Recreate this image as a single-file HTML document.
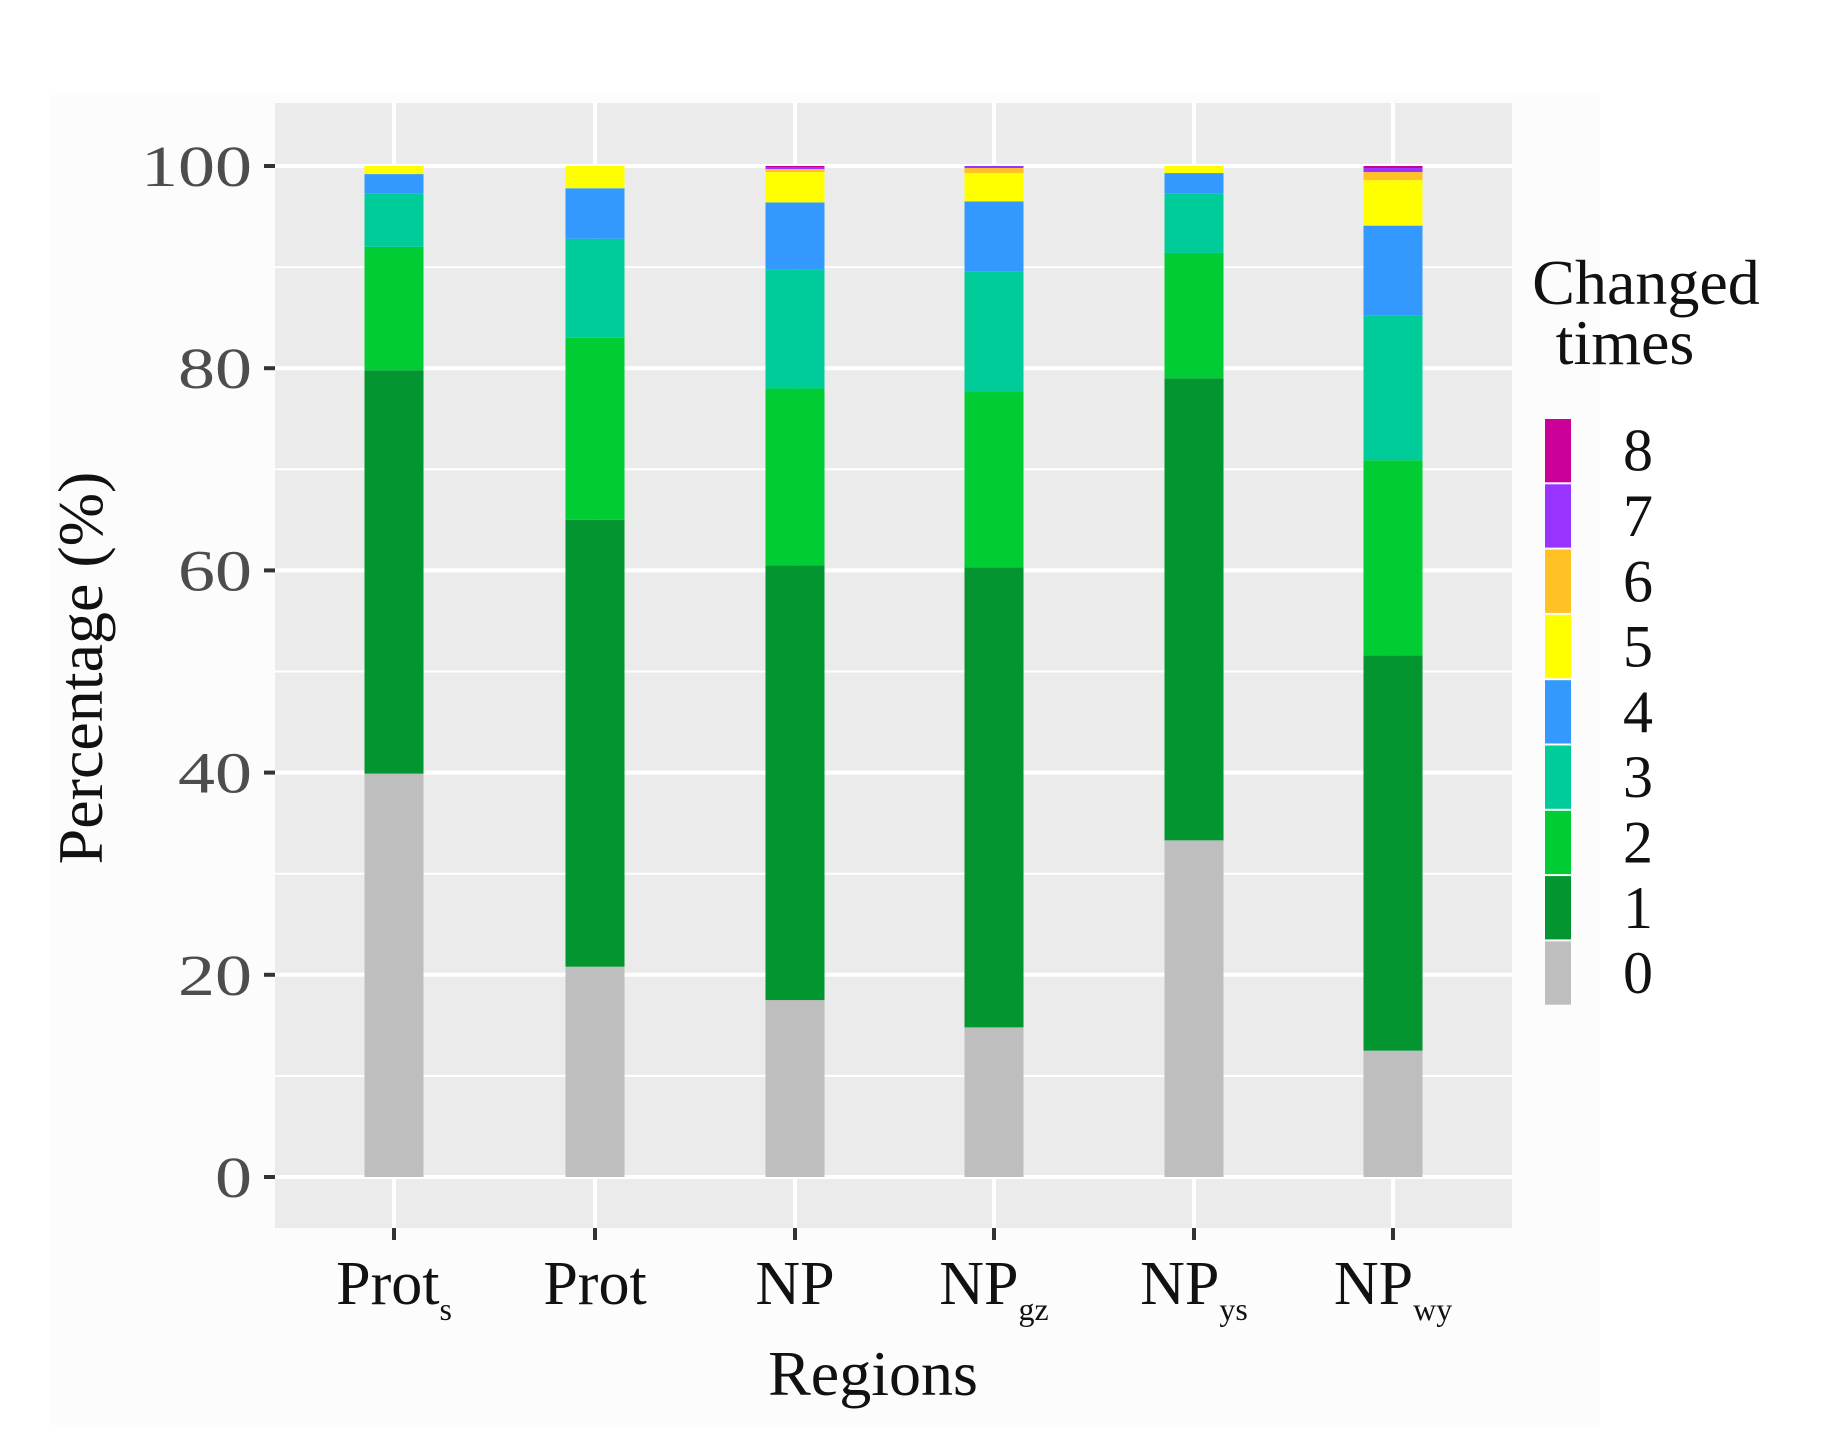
<!DOCTYPE html>
<html><head><meta charset="utf-8"><style>
html,body{margin:0;padding:0;background:#fff;}
svg{display:block;font-family:"Liberation Serif",serif;}
</style></head><body>
<svg id="s" width="1828" height="1440" xmlns="http://www.w3.org/2000/svg"></svg>
<script>
const s=document.getElementById('s');
let h='';
h+='<rect x="50" y="95" width="1550" height="1330" fill="#fcfcfc"/>';
const px0=275,px1=1512,py0=103,py1=1228;
const y0=1177,k=10.11;
const Y=v=>y0-v*k;
h+=`<rect x="${px0}" y="${py0}" width="${px1-px0}" height="${py1-py0}" fill="#ebebeb"/>`;
for(let v=10;v<=90;v+=20)h+=`<line x1="${px0}" x2="${px1}" y1="${Y(v)}" y2="${Y(v)}" stroke="#fff" stroke-width="2"/>`;
for(let v=0;v<=100;v+=20)h+=`<line x1="${px0}" x2="${px1}" y1="${Y(v)}" y2="${Y(v)}" stroke="#fff" stroke-width="4"/>`;
const xs=[394,595,795,994,1194,1393];
xs.forEach(x=>h+=`<line x1="${x}" x2="${x}" y1="${py0}" y2="${py1}" stroke="#fff" stroke-width="4"/>`);
const cols=['#bebebe','#039530','#00cc33','#00cc99','#3399ff','#ffff00','#ffc125','#9933ff','#cc0099'];
const data=[[39.9,79.8,92,97.3,99.2,100],[20.8,65,83,92.8,97.8,100],[17.5,60.5,78,89.8,96.4,99.4,99.7,99.9,100],
[14.8,60.3,77.7,89.6,96.5,99.3,99.8,100],[33.3,79,91.4,97.3,99.3,100],[12.5,51.6,70.9,85.2,94.1,98.6,99.4,99.8,100]];
data.forEach((d,i)=>{let prev=0;d.forEach((v,j)=>{h+=`<rect x="${xs[i]-29.5}" y="${Y(v)}" width="59" height="${Y(prev)-Y(v)}" fill="${cols[j]}"/>`;prev=v;});});
for(let v=0;v<=100;v+=20){h+=`<line x1="264" x2="275" y1="${Y(v)}" y2="${Y(v)}" stroke="#333" stroke-width="4"/>`;
const t=String(v);const L=t.length*37;
h+=`<text x="${252-L}" y="${Y(v)+20}" font-size="58" textLength="${L}" lengthAdjust="spacingAndGlyphs" fill="#4d4d4d">${t}</text>`;}
const labs=[['Prot','s'],['Prot',''],['NP',''],['NP','gz'],['NP','ys'],['NP','wy']];
xs.forEach((x,i)=>{h+=`<line x1="${x}" x2="${x}" y1="${py1}" y2="${py1+12}" stroke="#333" stroke-width="4"/>`;
const[a,b]=labs[i];h+=`<text x="${x}" y="1304" font-size="62" text-anchor="middle" fill="#111">${a}<tspan font-size="32" dy="16">${b}</tspan></text>`;});
h+=`<text x="873" y="1395" font-size="64" text-anchor="middle" fill="#111">Regions</text>`;
h+=`<text transform="translate(102,668) rotate(-90)" font-size="64" text-anchor="middle" fill="#111">Percentage (%)</text>`;
h+=`<text x="1646" y="304" font-size="64" text-anchor="middle" fill="#111">Changed</text>`;
h+=`<text x="1625" y="364" font-size="64" text-anchor="middle" fill="#111">times</text>`;
const kt=418,kh=65.3;
for(let j=8;j>=0;j--){const y=kt+(8-j)*kh;h+=`<rect x="1545" y="${y+1}" width="26" height="${kh-2}" fill="${cols[j]}"/>`;
h+=`<text x="1638" y="${y+kh/2+20}" font-size="60" text-anchor="middle" fill="#111">${j}</text>`;}
s.innerHTML=h;
</script>
</body></html>
